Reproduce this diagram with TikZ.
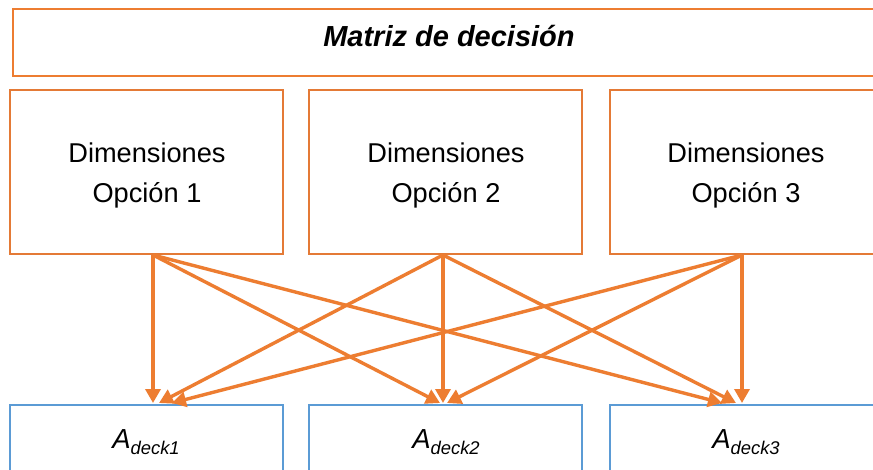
\documentclass[tikz,border=0pt]{standalone}
\usepackage{fontspec}
\setmainfont{Liberation Sans}
\usetikzlibrary{arrows.meta}
\definecolor{orng}{HTML}{ED7D31}
\definecolor{orngb}{HTML}{E47A36}
\definecolor{blu}{HTML}{5B9BD5}
\begin{document}
\begin{tikzpicture}[x=1pt,y=-1pt,
  box/.style={rectangle, line width=2pt, inner sep=0pt, outer sep=0pt},
  topbox/.style={box, draw=orng, minimum width=872pt, minimum height=67pt},
  dimbox/.style={box, draw=orngb, minimum width=273pt, minimum height=164pt},
  deckbox/.style={box, draw=blu, minimum width=273pt, minimum height=100pt},
  txt/.style={anchor=base, inner sep=0pt, font=\fontsize{27.2}{32}\selectfont},
  ttl/.style={anchor=base, inner sep=0pt, font=\fontsize{29}{34}\selectfont\bfseries\itshape},
  dtxt/.style={anchor=base, inner sep=0pt, font=\fontsize{27.5}{32}\selectfont\itshape},
  arr/.style={draw=orng, line width=3.4pt, -{Triangle[length=14pt,width=15pt]}}
]
\clip (0,0) rectangle (873,470);
\fill[white] (0,0) rectangle (873,470);
% boxes
\node[topbox] (top) at (449,42.5) {};
\node[dimbox] (d1) at (146.5,172) {};
\node[dimbox] (d2) at (445.5,172) {};
\node[dimbox] (d3) at (746.5,172) {};
\node[deckbox] (k1) at (146.5,455) {};
\node[deckbox] (k2) at (445.5,455) {};
\node[deckbox] (k3) at (746.5,455) {};
% texts
\node[ttl] (title) at (449,47) {Matriz de decisión};
\node[txt] (d1a) at (147,163) {Dimensiones};
\node[txt] (d1b) at (147,203) {Opción 1};
\node[txt] (d2a) at (446,163) {Dimensiones};
\node[txt] (d2b) at (446,203) {Opción 2};
\node[txt] (d3a) at (746,163) {Dimensiones};
\node[txt] (d3b) at (746,203) {Opción 3};
\node[dtxt] (k1t) at (146,448) {A\raisebox{-6pt}{\fontsize{18.4}{20}\selectfont deck1}};
\node[dtxt] (k2t) at (446,448) {A\raisebox{-6pt}{\fontsize{18.4}{20}\selectfont deck2}};
\node[dtxt] (k3t) at (746,448) {A\raisebox{-6pt}{\fontsize{18.4}{20}\selectfont deck3}};
% connector end points
\coordinate (s1) at (153,255);
\coordinate (s2) at (443,255);
\coordinate (s3) at (742,255);
\coordinate (e11) at (153,403);
\coordinate (e21) at (159,403);
\coordinate (e31) at (172,403);
\coordinate (e12) at (440,403);
\coordinate (e22) at (443,403);
\coordinate (e32) at (447,403);
\coordinate (e13) at (722,403);
\coordinate (e23) at (736,403);
\coordinate (e33) at (742,403);
% arrows
\draw[arr] (s1) -- (e11);
\draw[arr] (s1) -- (e12);
\draw[arr] (s1) -- (e13);
\draw[arr] (s2) -- (e21);
\draw[arr] (s2) -- (e22);
\draw[arr] (s2) -- (e23);
\draw[arr] (s3) -- (e31);
\draw[arr] (s3) -- (e32);
\draw[arr] (s3) -- (e33);
\end{tikzpicture}
\end{document}
